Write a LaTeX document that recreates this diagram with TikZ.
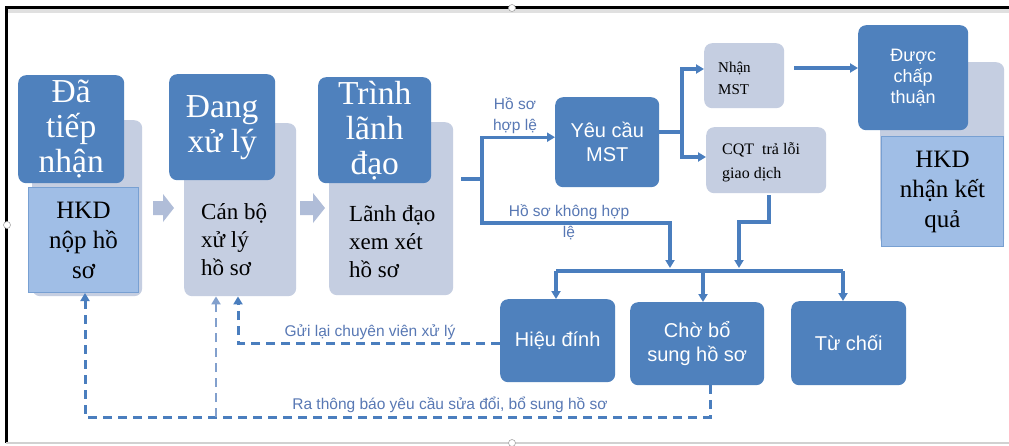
\documentclass[tikz,border=0pt]{standalone}
\usepackage{fontspec}
\setmainfont{Liberation Serif}
\newfontfamily\arialf{Liberation Sans}
\usetikzlibrary{arrows.meta}
\definecolor{dblue}{RGB}{79,129,189}
\definecolor{gbox}{RGB}{197,206,225}
\definecolor{lblue}{RGB}{160,190,230}
\definecolor{lbord}{RGB}{120,160,210}
\definecolor{lc}{RGB}{74,126,190}
\definecolor{labc}{RGB}{88,120,180}
\definecolor{barrow}{RGB}{176,189,216}
\definecolor{lightdash}{RGB}{130,160,205}
\begin{document}
\begin{tikzpicture}[x=1pt,y=-1pt,
  darkbox/.style={fill=dblue, rounded corners=8pt, text=white, align=center, inner sep=0pt, anchor=north west},
  graybox/.style={fill=gbox, rounded corners=8pt, inner sep=0pt, anchor=north west},
  lbbox/.style={fill=lblue, draw=lbord, line width=1pt, inner sep=0pt, anchor=north west, align=center},
  bigserif/.style={font=\fontsize{33.5}{35}\selectfont},
  midserif/.style={font=\fontsize{25}{30}\selectfont},
  grtext/.style={font=\fontsize{23}{28}\selectfont, align=left, anchor=west, inner sep=0pt},
  sansbox/.style={font=\arialf\fontsize{20}{24}\selectfont},
  lab/.style={font=\arialf\fontsize{15.5}{21}\selectfont, text=labc, align=center, inner sep=0pt},
  conn/.style={draw=lc, line width=3.2pt},
  arr/.style={-{Triangle[length=8pt,width=9pt]}},
  dconn/.style={draw=lc, line width=3pt, dash pattern=on 9pt off 6pt},
  blockarrow/.style={fill=barrow, draw=none}
]
\useasboundingbox (0,0) rectangle (1009,445);
\fill[white] (0,0) rectangle (1009,445);
% screenshot frame
\fill[black!12] (8,9) rectangle (1009,13);
\draw[black, line width=3pt] (5,7.5) -- (1009,7.5);
\draw[black, line width=3pt] (6.5,7) -- (6.5,443);
\draw[black!18, line width=1.5pt] (6,443) -- (1009,443);
\node[circle, fill=white, draw=black!35, line width=0.6pt, minimum size=7pt, inner sep=0pt] (h1) at (512,8) {};
\node[circle, fill=white, draw=black!35, line width=0.6pt, minimum size=7pt, inner sep=0pt] (h2) at (7,225) {};
\node[circle, fill=white, draw=black!35, line width=0.6pt, minimum size=7pt, inner sep=0pt] (h3) at (512,443) {};

% Block 1
\node[graybox, minimum width=110pt, minimum height=176pt] (g1) at (32,120) {};
\node[darkbox, bigserif, minimum width=106pt, minimum height=108pt] (d1) at (18,75) {Đã\\tiếp\\nhận};
\node[lbbox, midserif, minimum width=110pt, minimum height=105pt] (l1) at (28,187) {HKD\\nộp hồ\\sơ};

% Block 2
\node[graybox, minimum width=112pt, minimum height=173pt] (g2) at (184,123) {};
\node[darkbox, bigserif, minimum width=106pt, minimum height=106pt] (d2) at (169,74) {Đang\\xử lý};
\node[grtext] (t2) at (201,240) {Cán bộ\\xử lý\\hồ sơ};

% Block 3
\node[graybox, minimum width=124pt, minimum height=173pt] (g3) at (329,122) {};
\node[darkbox, bigserif, minimum width=113pt, minimum height=106pt] (d3) at (318,77) {Trình\\lãnh\\đạo};
\node[grtext] (t3) at (349,242) {Lãnh đạo\\xem xét\\hồ sơ};

% block arrows
\fill[blockarrow] (153,201) -- (163,201) -- (163,194) -- (174,208) -- (163,222) -- (163,215) -- (153,215) -- cycle;
\fill[blockarrow] (300,201) -- (313,201) -- (313,193) -- (325,208) -- (313,223) -- (313,215) -- (300,215) -- cycle;

% Yeu cau MST
\node[darkbox, sansbox, minimum width=104pt, minimum height=90pt] (yc) at (555,97) {Yêu cầu\\MST};
% Nhan MST
\node[graybox, minimum width=80pt, minimum height=65pt] (nm) at (704,43) {};
\node[grtext, font=\fontsize{15}{22}\selectfont] (nmt) at (718,78) {Nhận\\MST};
% CQT
\node[graybox, minimum width=120pt, minimum height=66pt] (cq) at (706,127) {};
\node[grtext, font=\fontsize{16}{24}\selectfont] (cqt) at (722,162) {CQT\ \ trả lỗi\\giao dịch};

% Duoc chap thuan block
\node[graybox, minimum width=124pt, minimum height=184pt] (g4) at (880,62) {};
\node[darkbox, font=\arialf\fontsize{18}{21}\selectfont, minimum width=110pt, minimum height=105pt] (d4) at (858,25) {Được\\chấp\\thuận};
\node[lbbox, midserif, minimum width=122pt, minimum height=110pt] (l4) at (881,136) {HKD\\nhận kết\\quả};

% bottom boxes
\node[darkbox, sansbox, minimum width=115pt, minimum height=83pt] (hd) at (500,299) {Hiệu đính};
\node[darkbox, sansbox, minimum width=134pt, minimum height=83pt] (cb) at (630,302) {Chờ bổ\\sung hồ sơ};
\node[darkbox, sansbox, minimum width=115pt, minimum height=84pt] (tc) at (791,301) {Từ chối};

% connectors from block 3
\coordinate (j0) at (461,179);
\coordinate (j1) at (482,179);
\coordinate (nv1) at (482,223);
\coordinate (nv2) at (670,223);
\coordinate (nv3) at (670,268);
\draw[conn] (j0) -- (j1);
\draw[conn, arr] (j1) |- ([yshift=5pt]yc.west);
\draw[conn, arr] (j1) -- (nv1) -- (nv2) -- (nv3);
\node[lab] (lb1) at (515,116) {Hồ sơ\\hợp lệ};
\node[lab] (lb2) at (569,222) {Hồ sơ không hợp\\lệ};

% from Yeu cau
\coordinate (k0) at (659,132);
\coordinate (k1) at (682,132);
\draw[conn] (k0) -- (k1);
\draw[conn, arr] (k1) |- (nm.west |- 0,69);
\draw[conn, arr] (k1) |- (cq.west |- 0,157);
\coordinate (m0) at (794,68);
\draw[conn, arr] (m0) -- (d4.west |- m0);

% from CQT down
\coordinate (c0) at (769,195);
\coordinate (c1) at (769,222);
\coordinate (c2) at (739,222);
\coordinate (c3) at (739,268);
\draw[conn, arr] (c0) -- (c1) -- (c2) -- (c3);

% distribution bar
\coordinate (bL) at (556,271);
\coordinate (bM) at (703,271);
\coordinate (bR) at (843,271);
\draw[conn] (bL) -- (bR);
\draw[conn, arr] (bL) -- (bL |- hd.north);
\draw[conn, arr] (bM) -- (bM |- cb.north);
\draw[conn, arr] (bR) -- (bR |- tc.north);

% dashed feedback
\coordinate (e1) at (238,343);
\draw[dconn, arr] (hd.west |- e1) -- (e1) -- (e1 |- g2.south);
\node[lab] (lb3) at (370,332) {Gửi lại chuyên viên xử lý};

\coordinate (f0) at (710,385);
\coordinate (f1) at (710,417);
\coordinate (f2) at (85,417);
\coordinate (f3) at (216,417);
\draw[dconn, arr] (cb.south -| f0) -- (f1) -- (f2) -- (f2 |- l1.south);
\draw[draw=lightdash, line width=2pt, dash pattern=on 9pt off 6pt, arr] (f3) -- (f3 |- g2.south);
\node[lab] (lb4) at (450,405) {Ra thông báo yêu cầu sửa đổi, bổ sung hồ sơ};
\end{tikzpicture}
\end{document}
